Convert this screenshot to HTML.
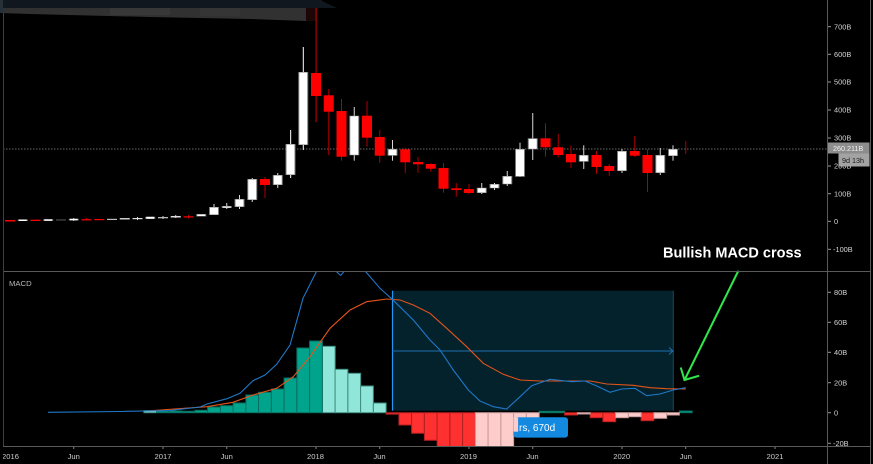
<!DOCTYPE html>
<html><head><meta charset="utf-8"><style>
html,body{margin:0;padding:0;background:#000;}
svg{display:block;}
text{font-family:"Liberation Sans",sans-serif;}
</style></head><body>
<svg width="873" height="464" viewBox="0 0 873 464" xmlns="http://www.w3.org/2000/svg">
<defs>
<clipPath id="top"><rect x="3" y="0" width="824" height="271"/></clipPath>
<clipPath id="mp"><rect x="3" y="271.5" width="824" height="174.5"/></clipPath>
<clipPath id="tl"><rect x="3" y="446" width="824" height="18"/></clipPath>
</defs>
<rect width="873" height="464" fill="#000"/>

<!-- header blur -->
<rect x="0" y="0" width="322" height="8" fill="#10171e"/>
<polygon points="320,0 337,8 320,8" fill="#10171e"/>
<polygon points="0,8 306,8 306,21 250,19 150,17 30,14 0,13" fill="#313131"/>
<rect x="110" y="8" width="60" height="7" fill="#383838"/>
<rect x="200" y="8" width="40" height="8" fill="#353535"/>
<rect x="306" y="8" width="11" height="13" fill="#1c0606"/>
<rect x="0" y="0" width="3" height="13" fill="#263038"/>

<!-- price line -->
<line x1="3" y1="149" x2="827" y2="149" stroke="#6a6a6a" stroke-width="1" stroke-dasharray="1.5 1.5"/>

<g clip-path="url(#top)">
<!-- wicks -->
<g fill="#d8d8d8">
<rect x="73.25" y="218" width="1" height="3"/>
<rect x="137" y="217" width="1" height="3"/>
<rect x="162.5" y="216" width="1" height="3"/>
<rect x="175.25" y="215" width="1" height="3"/>
<rect x="213.5" y="204" width="1" height="11"/>
<rect x="226.25" y="203" width="1" height="6"/>
<rect x="239" y="195" width="1" height="14"/>
<rect x="251.75" y="178" width="1" height="24"/>
<rect x="277.25" y="173" width="1" height="15"/>
<rect x="290" y="130" width="1.2" height="48"/>
<rect x="302.75" y="47" width="1.2" height="103"/>
<rect x="353.75" y="107" width="1" height="53.7"/>
<rect x="392" y="140" width="1" height="20.7"/>
<rect x="481.25" y="183" width="1" height="11"/>
<rect x="494" y="183" width="1" height="7"/>
<rect x="506.75" y="171" width="1" height="15"/>
<rect x="519.5" y="142.7" width="1" height="34.3"/>
<rect x="532.25" y="113" width="1" height="47"/>
<rect x="583.25" y="145.3" width="1" height="23.7"/>
<rect x="621.5" y="149" width="1" height="24"/>
<rect x="659.75" y="148" width="1" height="27"/>
<rect x="672.5" y="145.3" width="1" height="15.4"/>
</g>
<g fill="#b00000">
<rect x="86" y="218" width="1" height="2.5"/>
<rect x="188" y="215" width="1" height="3.5"/>
<rect x="264.5" y="177" width="1" height="21"/>
<rect x="315.5" y="8" width="1.2" height="114"/>
<rect x="328.25" y="89" width="1" height="66"/>
<rect x="341" y="99" width="1" height="61.7"/>
<rect x="366.5" y="101" width="1" height="45.7"/>
<rect x="379.25" y="130" width="1" height="32.7"/>
<rect x="404.75" y="147.7" width="1" height="25.6"/>
<rect x="417.5" y="157" width="1" height="15.7"/>
<rect x="430.25" y="163.3" width="1" height="8.4"/>
<rect x="443" y="163" width="1" height="29.7"/>
<rect x="455.75" y="183" width="1" height="13.7"/>
<rect x="468.5" y="184" width="1" height="10"/>
<rect x="545" y="123.3" width="1" height="33.4"/>
<rect x="557.75" y="134" width="1" height="23.3"/>
<rect x="570.5" y="145.3" width="1" height="22.7"/>
<rect x="596" y="151" width="1" height="22.7"/>
<rect x="608.75" y="164" width="1" height="12"/>
<rect x="634.25" y="136" width="1" height="21"/>
<rect x="647" y="149.3" width="1" height="42.7"/>
<rect x="685.25" y="141" width="1" height="13"/>
</g>
<!-- white bodies (gray edge + white fill) -->
<g fill="#7a7a7a">
<rect x="17.75" y="219.5" width="10" height="1.5"/>
<rect x="43.25" y="219.3" width="10" height="1.5"/>
<rect x="68.75" y="218.8" width="10" height="1.5"/>
<rect x="145.25" y="216.8" width="10" height="2"/>
<rect x="196.25" y="214" width="10" height="2.5"/>
<rect x="209" y="207" width="10" height="8"/>
<rect x="221.75" y="206" width="10" height="2"/>
<rect x="234.5" y="199" width="10" height="8"/>
<rect x="247.25" y="179" width="10" height="21"/>
<rect x="272.75" y="175" width="10" height="10"/>
<rect x="285.5" y="144" width="10" height="31"/>
<rect x="298.25" y="72" width="10" height="73"/>
<rect x="349.25" y="115.7" width="10" height="39.6"/>
<rect x="387.5" y="149" width="10" height="6.7"/>
<rect x="476.75" y="187.7" width="10" height="5.3"/>
<rect x="489.5" y="184" width="10" height="4.3"/>
<rect x="502.25" y="176" width="10" height="8.3"/>
<rect x="515" y="149" width="10" height="27.7"/>
<rect x="527.75" y="138.3" width="10" height="11"/>
<rect x="578.75" y="155" width="10" height="6.7"/>
<rect x="617" y="151" width="10" height="20"/>
<rect x="655.25" y="155" width="10" height="18"/>
<rect x="668" y="149" width="10" height="7"/>
</g>
<g fill="#ffffff">
<rect x="18.75" y="219.5" width="8" height="1.5"/>
<rect x="44.25" y="219.3" width="8" height="1.5"/>
<rect x="69.75" y="218.8" width="8" height="1.5"/>
<rect x="146.25" y="216.8" width="8" height="2"/>
<rect x="197.25" y="214.5" width="8" height="1.5"/>
<rect x="210" y="207.5" width="8" height="7"/>
<rect x="222.75" y="206.5" width="8" height="1.2"/>
<rect x="235.5" y="199.5" width="8" height="7"/>
<rect x="248.25" y="179.5" width="8" height="20"/>
<rect x="273.75" y="175.5" width="8" height="9"/>
<rect x="286.5" y="144.5" width="8" height="30"/>
<rect x="299.25" y="72.5" width="8" height="72"/>
<rect x="350.25" y="116.2" width="8" height="38.6"/>
<rect x="388.5" y="149.5" width="8" height="5.7"/>
<rect x="477.75" y="188.2" width="8" height="4.3"/>
<rect x="490.5" y="184.5" width="8" height="3.3"/>
<rect x="503.25" y="176.5" width="8" height="7.3"/>
<rect x="516" y="149.5" width="8" height="26.7"/>
<rect x="528.75" y="138.8" width="8" height="10"/>
<rect x="579.75" y="155.5" width="8" height="5.7"/>
<rect x="618" y="151.5" width="8" height="19"/>
<rect x="656.25" y="155.5" width="8" height="17"/>
<rect x="669" y="149.5" width="8" height="6"/>
</g>
<!-- grayish small bodies -->
<rect x="56" y="219.3" width="10" height="1.3" fill="#444"/>
<rect x="107" y="218.8" width="10" height="1.2" fill="#bbb"/>
<rect x="119.75" y="218" width="10" height="1.5" fill="#ccc"/>
<rect x="132.5" y="218" width="10" height="1.2" fill="#ddd"/>
<rect x="158" y="217" width="10" height="1.3" fill="#bbb"/>
<rect x="170.75" y="216" width="10" height="1.5" fill="#ddd"/>
<!-- red bodies -->
<g fill="#ff0000">
<rect x="5" y="220" width="10" height="1.5"/>
<rect x="30.5" y="219.7" width="10" height="1.3"/>
<rect x="81.5" y="219.2" width="10" height="1.2"/>
<rect x="94.25" y="219" width="10" height="1.2"/>
<rect x="183.5" y="216.3" width="10" height="1.2"/>
<rect x="260" y="179" width="10" height="6"/>
<rect x="311" y="73" width="10" height="23"/>
<rect x="323.75" y="95.3" width="10" height="16.4"/>
<rect x="336.5" y="111" width="10" height="45.7"/>
<rect x="362" y="115.7" width="10" height="22"/>
<rect x="374.75" y="137" width="10" height="18.7"/>
<rect x="400.25" y="149.3" width="10" height="13"/>
<rect x="413" y="162" width="10" height="2.3"/>
<rect x="425.75" y="164" width="10" height="4.7"/>
<rect x="438.5" y="168" width="10" height="20.7"/>
<rect x="451.25" y="188.3" width="10" height="1.7"/>
<rect x="464" y="189" width="10" height="4"/>
<rect x="540.5" y="138.3" width="10" height="9"/>
<rect x="553.25" y="147.3" width="10" height="7.7"/>
<rect x="566" y="154" width="10" height="8.3"/>
<rect x="591.5" y="155" width="10" height="12"/>
<rect x="604.25" y="166" width="10" height="5"/>
<rect x="629.75" y="151" width="10" height="4.7"/>
<rect x="642.5" y="155" width="10" height="18"/>
</g>
</g>

<!-- Annotation text -->
<text x="663" y="257.5" font-size="14.5" font-weight="bold" fill="#ffffff">Bullish MACD cross</text>

<!-- MACD pane -->
<g clip-path="url(#mp)">
<!-- measurement box -->
<rect x="392.3" y="290.7" width="281" height="120" fill="#03222c"/>
<line x1="673.3" y1="290.7" x2="673.3" y2="410.7" stroke="#164a5e" stroke-width="1"/>
<line x1="392.5" y1="290.7" x2="392.5" y2="410.7" stroke="#2196f3" stroke-width="1.2"/>
<line x1="392.5" y1="351" x2="673" y2="351" stroke="#1f6fae" stroke-width="1"/>
<polyline points="669,347.5 673,351 669,354.5" fill="none" stroke="#1f6fae" stroke-width="1"/>

<!-- histogram -->
<g stroke-width="1">
<g fill="#8fe6d9" stroke="#3e8d82">
<rect x="143.9" y="410.7" width="12.75" height="2"/>
<rect x="322.4" y="346.3" width="12.75" height="66.4"/>
<rect x="335.1" y="369.3" width="12.75" height="43.4"/>
<rect x="347.9" y="373.3" width="12.75" height="39.4"/>
<rect x="360.6" y="386" width="12.75" height="26.7"/>
<rect x="373.4" y="403" width="12.75" height="9.7"/>
</g>
<g fill="#00a48c" stroke="#0a6e60">
<rect x="156.6" y="411" width="12.75" height="1.7"/>
<rect x="169.4" y="411" width="12.75" height="1.7"/>
<rect x="182.1" y="411.3" width="12.75" height="1.4"/>
<rect x="194.9" y="410.3" width="12.75" height="2.4"/>
<rect x="207.6" y="407" width="12.75" height="5.7"/>
<rect x="220.4" y="405.7" width="12.75" height="7"/>
<rect x="233.1" y="403" width="12.75" height="9.7"/>
<rect x="245.9" y="395" width="12.75" height="17.7"/>
<rect x="258.6" y="392.3" width="12.75" height="20.4"/>
<rect x="271.4" y="389" width="12.75" height="23.7"/>
<rect x="284.1" y="378" width="12.75" height="34.7"/>
<rect x="296.9" y="348" width="12.75" height="64.7"/>
<rect x="309.6" y="341" width="12.75" height="71.7"/>
<rect x="539.1" y="411.3" width="12.75" height="1.4"/>
<rect x="551.9" y="411.3" width="12.75" height="1.4"/>
<rect x="679.4" y="411" width="12.75" height="1.7"/>
</g>
<g fill="#ff3030" stroke="#b02020">
<rect x="386.1" y="412.7" width="12.75" height="1.5"/>
<rect x="398.9" y="412.7" width="12.75" height="12.3"/>
<rect x="411.6" y="412.7" width="12.75" height="20.6"/>
<rect x="424.4" y="412.7" width="12.75" height="27.6"/>
<rect x="437.1" y="412.7" width="12.75" height="40"/>
<rect x="449.9" y="412.7" width="12.75" height="40"/>
<rect x="462.6" y="412.7" width="12.75" height="40"/>
<rect x="564.6" y="412.7" width="12.75" height="2.3"/>
<rect x="590.1" y="412.7" width="12.75" height="5"/>
<rect x="602.9" y="412.7" width="12.75" height="9"/>
<rect x="641.1" y="412.7" width="12.75" height="8"/>
</g>
<g fill="#ffcccc" stroke="#c49a9a">
<rect x="475.4" y="412.7" width="12.75" height="40"/>
<rect x="488.1" y="412.7" width="12.75" height="40"/>
<rect x="500.9" y="412.7" width="12.75" height="40"/>
<rect x="513.6" y="412.7" width="12.75" height="19"/>
<rect x="526.4" y="412.7" width="12.75" height="5.3"/>
<rect x="577.4" y="412.7" width="12.75" height="1.3"/>
<rect x="615.6" y="412.7" width="12.75" height="5"/>
<rect x="628.4" y="412.7" width="12.75" height="4"/>
<rect x="653.9" y="412.7" width="12.75" height="5.6"/>
<rect x="666.6" y="412.7" width="12.75" height="2.3"/>
</g>
</g>

<!-- label -->
<rect x="513.5" y="417.3" width="54.5" height="20.3" rx="3" fill="#1489e0"/>
<rect x="513.6" y="417.3" width="4.5" height="14.4" fill="#ffcccc"/>
<text x="519" y="431" font-size="10" fill="#ffffff">rs, 670d</text>

<!-- signal line -->
<polyline fill="none" stroke="#e4541b" stroke-width="1.1" points="146.7,411 207,406.7 233,402.3 253,395 276.7,388.3 293.3,376.7 310,356.7 330,328.3 350,310 366.7,301.7 386.7,299 400,300 413.3,305 430,313.3 446.7,328.3 466.7,346.7 483.3,363.3 503.3,374.3 520,380 540,381 590,381 606.7,384 633.3,385.3 650,387.7 666.7,388.7 685.7,389"/>
<!-- MACD line -->
<polyline fill="none" stroke="#1f78c8" stroke-width="1.1" points="48,412.3 120,411.5 170,410.5 200,407 207,404 227,398.7 240,393.3 253,380.7 265,375 276.7,364.3 290,345 303,298.3 316.7,271 326,262 340.7,275.5 347,268 360,266 366,272 380,288.3 392.3,299.3 413.3,320 430,340 440,350 453.3,370 468.3,390 480,401 493.3,406.7 506.7,409 518.3,398.3 531.7,385.7 550,379.3 556.7,380 571.7,381.7 585,381 596.7,386 610,392.3 621.7,389 635,388.3 646.7,395.7 660,394 673.3,390 685.7,387.7"/>
</g>

<text x="9" y="286" font-size="7.7" fill="#b8b8b8">MACD</text>

<!-- green arrow -->
<g stroke="#2ee84a" stroke-width="2" fill="none" stroke-linecap="round">
<line x1="738" y1="271.5" x2="684.5" y2="380"/>
<polyline points="681,368.3 684.5,380 698.3,376"/>
</g>

<!-- frame lines -->
<line x1="3" y1="271.5" x2="870" y2="271.5" stroke="#5a5a5a" stroke-width="1"/>
<line x1="3" y1="446.5" x2="870" y2="446.5" stroke="#5a5a5a" stroke-width="1"/>
<line x1="827.5" y1="0" x2="827.5" y2="464" stroke="#5a5a5a" stroke-width="1"/>
<line x1="870.5" y1="0" x2="870.5" y2="464" stroke="#5a5a5a" stroke-width="1"/>
<line x1="3.5" y1="13" x2="3.5" y2="446" stroke="#35424a" stroke-width="1"/>

<!-- price axis ticks & labels -->
<g stroke="#999" stroke-width="1">
<line x1="828" y1="26.7" x2="831" y2="26.7"/>
<line x1="828" y1="54.3" x2="831" y2="54.3"/>
<line x1="828" y1="82" x2="831" y2="82"/>
<line x1="828" y1="110" x2="831" y2="110"/>
<line x1="828" y1="138" x2="831" y2="138"/>
<line x1="828" y1="166" x2="831" y2="166"/>
<line x1="828" y1="193.7" x2="831" y2="193.7"/>
<line x1="828" y1="221.3" x2="831" y2="221.3"/>
<line x1="828" y1="249.3" x2="831" y2="249.3"/>
<line x1="828" y1="292.3" x2="831" y2="292.3"/>
<line x1="828" y1="322.3" x2="831" y2="322.3"/>
<line x1="828" y1="352.3" x2="831" y2="352.3"/>
<line x1="828" y1="382.7" x2="831" y2="382.7"/>
<line x1="828" y1="412.7" x2="831" y2="412.7"/>
<line x1="828" y1="443.3" x2="831" y2="443.3"/>
</g>
<g font-size="7.4" fill="#d4d4d4">
<text x="834" y="29.3">700B</text>
<text x="834" y="56.9">600B</text>
<text x="834" y="84.6">500B</text>
<text x="834" y="112.6">400B</text>
<text x="834" y="140.6">300B</text>
<text x="834" y="168.6">200B</text>
<text x="834" y="196.3">100B</text>
<text x="834" y="223.9">0</text>
<text x="833" y="251.9">-100B</text>
<text x="834" y="294.9">80B</text>
<text x="834" y="324.9">60B</text>
<text x="834" y="354.9">40B</text>
<text x="834" y="385.3">20B</text>
<text x="834" y="415.3">0</text>
<text x="833" y="445.9">-20B</text>
</g>
<!-- price labels -->
<rect x="828" y="142.5" width="41.5" height="11" fill="#8d8d8d"/>
<text x="833" y="150.8" font-size="7.2" fill="#f0f0f0">260.211B</text>
<rect x="838.5" y="153.5" width="31" height="13" fill="#a3a3a3"/>
<text x="842" y="162.8" font-size="7.2" fill="#1a1a1a">9d 13h</text>

<!-- time axis -->
<g stroke="#888" stroke-width="1">
<line x1="73.75" y1="447" x2="73.75" y2="449"/>
<line x1="163" y1="447" x2="163" y2="449"/>
<line x1="226.75" y1="447" x2="226.75" y2="449"/>
<line x1="316" y1="447" x2="316" y2="449"/>
<line x1="379.75" y1="447" x2="379.75" y2="449"/>
<line x1="469" y1="447" x2="469" y2="449"/>
<line x1="532.75" y1="447" x2="532.75" y2="449"/>
<line x1="622" y1="447" x2="622" y2="449"/>
<line x1="685.75" y1="447" x2="685.75" y2="449"/>
<line x1="775" y1="447" x2="775" y2="449"/>
</g>
<g font-size="7.6" fill="#cccccc" text-anchor="middle" clip-path="url(#tl)">
<text x="10.5" y="459">2016</text>
<text x="73.75" y="459">Jun</text>
<text x="163" y="459">2017</text>
<text x="226.75" y="459">Jun</text>
<text x="315.5" y="459">2018</text>
<text x="379.5" y="459">Jun</text>
<text x="468.5" y="459">2019</text>
<text x="532.5" y="459">Jun</text>
<text x="621.7" y="459">2020</text>
<text x="685.7" y="459">Jun</text>
<text x="775" y="459">2021</text>
</g>
</svg>
</body></html>
